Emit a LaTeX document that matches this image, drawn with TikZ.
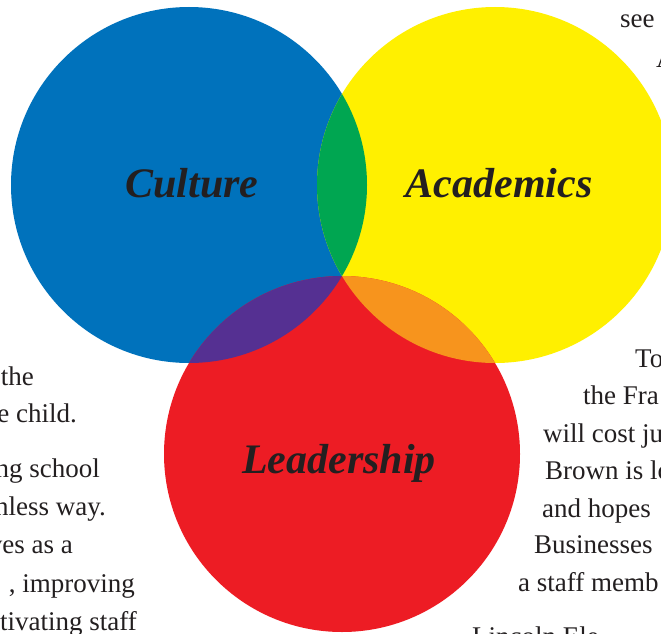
\documentclass[tikz,border=0pt]{standalone}
\usepackage{fontspec}
\setmainfont{Liberation Serif}
\definecolor{cblue}{HTML}{0072BC}
\definecolor{cyellow}{HTML}{FFF000}
\definecolor{cred}{HTML}{ED1C24}
\definecolor{cgreen}{HTML}{00A651}
\definecolor{cpurple}{HTML}{553092}
\definecolor{corange}{HTML}{F7941D}
\definecolor{ink}{HTML}{231F20}
\tikzset{
  lbl/.style={anchor=base, text=ink, font=\fontsize{42}{42}\selectfont\bfseries\itshape, inner sep=0pt},
  bodyL/.style={anchor=base east, text=ink, font=\fontsize{27}{31}\selectfont, inner sep=0pt},
  bodyR/.style={anchor=base west, text=ink, font=\fontsize{27}{31}\selectfont, inner sep=0pt}
}
\begin{document}
\begin{tikzpicture}[x=1pt,y=-1pt]
\useasboundingbox (0,0) rectangle (661,634);
\clip (0,0) rectangle (661,634);
% circles
\def\R{178}
\coordinate (cb) at (189,185);
\coordinate (cy) at (495,185);
\coordinate (cr) at (342,454);
\fill[cblue] (cb) circle[radius=\R];
\fill[cyellow] (cy) circle[radius=\R];
\fill[cred] (cr) circle[radius=\R];
\begin{scope}
  \clip (cb) circle[radius=\R];
  \fill[cgreen] (cy) circle[radius=\R];
  \fill[cpurple] (cr) circle[radius=\R];
\end{scope}
\begin{scope}
  \clip (cy) circle[radius=\R];
  \fill[corange] (cr) circle[radius=\R];
\end{scope}
% labels
\node[lbl] (culture) at (192,197) {Culture};
\node[lbl] (academics) at (499,197) {Academics};
\node[lbl] (leadership) at (339,473) {Leadership};
% left text column
\node[bodyL] (l1) at (34,385) {the};
\node[bodyL] (l2) at (77,422) {e child.};
\node[bodyL] (l3) at (100,477) {ng school};
\node[bodyL] (l4) at (106,515) {nless way.};
\node[bodyL] (l5) at (73,553) {ves as a};
\node[bodyL] (l6) at (135,592) {, improving};
\node[bodyL] (l7) at (137,630) {tivating staff};
% right text column
\node[bodyR] (t0) at (620,28) {see};
\node[bodyR] (t00) at (656,67) {A};
\node[bodyR] (r1) at (635,367) {To};
\node[bodyR] (r2) at (583,404) {the Fra};
\node[bodyR] (r3) at (543,442) {will cost ju};
\node[bodyR] (r4) at (545,479) {Brown is lo};
\node[bodyR] (r5) at (542,517) {and hopes};
\node[bodyR] (r6) at (534,553) {Businesses};
\node[bodyR] (r7) at (518,591) {a staff memb};
\node[bodyR] (r8) at (472,645) {Lincoln Ele};
\end{tikzpicture}
\end{document}
